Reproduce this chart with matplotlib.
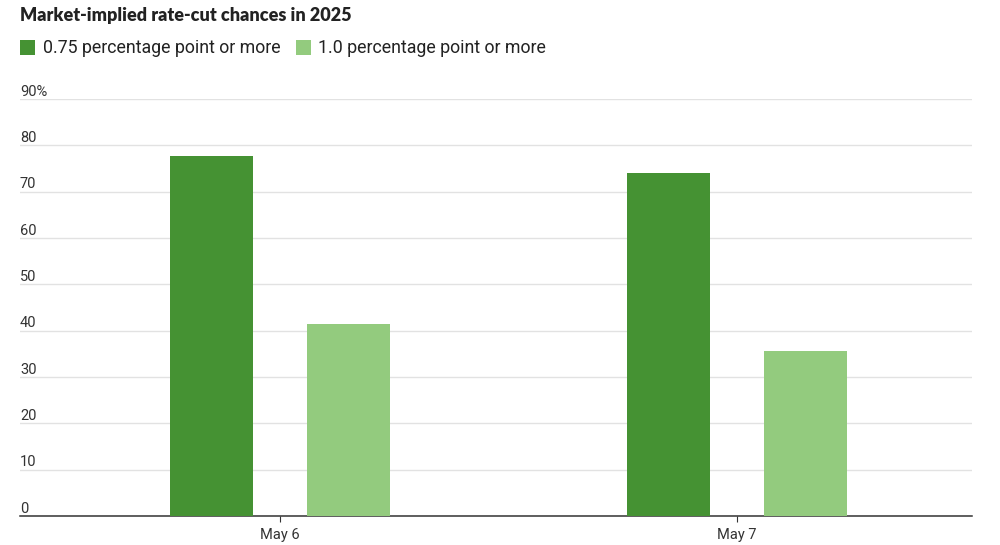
import matplotlib
matplotlib.use("Agg")
import matplotlib.pyplot as plt
from matplotlib.patches import Rectangle
import numpy as np

categories = ["May 6", "May 7"]
series_names = ["0.75 percentage point or more", "1.0 percentage point or more"]
s075 = [77.8, 74.0]
s100 = [41.4, 35.7]
yticks = [0, 10, 20, 30, 40, 50, 60, 70, 80, 90]
ytick_labels = ["0", "10", "20", "30", "40", "50", "60", "70", "80", "90%"]
colors = ["#459233", "#93cb7e"]

plt.rcParams['font.family'] = ['Roboto', 'DejaVu Sans']

fig = plt.figure(figsize=(10, 5.45), dpi=100)
ax = fig.add_axes([0.02, 29/545, 0.952, (516-99)/545])

x = np.arange(len(categories))
w = 0.182
off = 0.15
ax.bar(x - off, s075, width=w, color=colors[0], zorder=3)
ax.bar(x + off, s100, width=w, color=colors[1], zorder=3)

ax.set_xlim(-0.569, 1.514)
ax.set_ylim(0, 90)
ax.set_yticks(yticks)
ax.set_yticklabels([])
for v, lab in zip(yticks, ytick_labels):
    ax.text(0, v + 0.7, lab, transform=ax.get_yaxis_transform(), ha='left', va='baseline',
            fontsize=10.5, color='#333333')
ax.tick_params(axis='y', length=0)
ax.grid(axis='y', color='#e2e2e2', linewidth=1, zorder=0)
for s in ['left', 'right', 'top']:
    ax.spines[s].set_visible(False)
ax.spines['bottom'].set_color('#333333')
ax.spines['bottom'].set_linewidth(1.1)
ax.set_xticks(x)
ax.set_xticklabels(categories, fontsize=10.5, color='#333333')
ax.tick_params(axis='x', length=4, color='#333333', pad=5)

fig.text(0.02, 1 - 15/545, "Market-implied rate-cut chances in 2025", fontsize=13,
         fontweight='heavy', color='#222222', ha='left', va='center', family=['Lato', 'DejaVu Sans'])

# legend
ly = 1 - 48/545
for px, col, name, tx in [(20, colors[0], series_names[0], 43), (296, colors[1], series_names[1], 318)]:
    fig.patches.append(Rectangle((px/1000, 1 - 55/545), 15/1000, 15/545, transform=fig.transFigure,
                                 facecolor=col, edgecolor='none'))
    fig.text(tx/1000, ly, name, fontsize=12.8, color='#222222', ha='left', va='center')

fig.savefig("out.png", dpi=100)
